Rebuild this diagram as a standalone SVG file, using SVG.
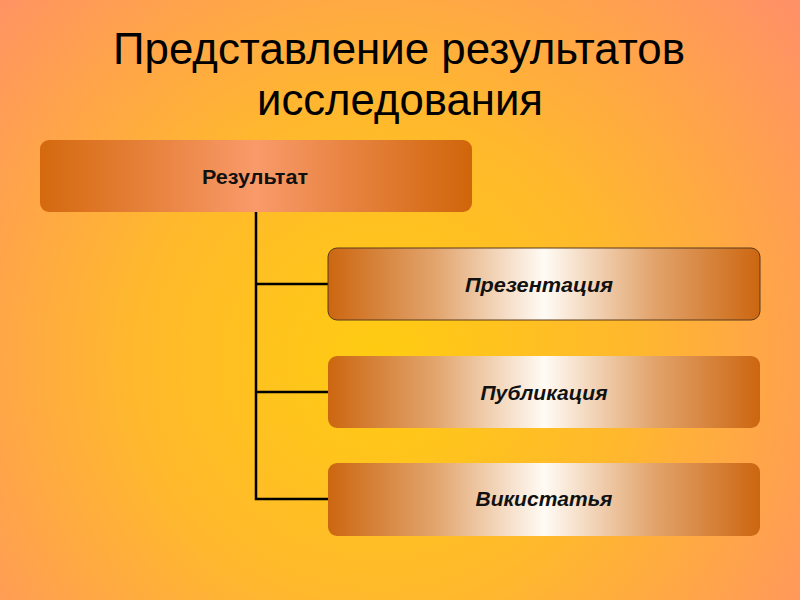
<svg xmlns="http://www.w3.org/2000/svg" width="800" height="600" viewBox="0 0 800 600">
<defs>
<radialGradient id="bg" cx="380" cy="360" r="540" gradientUnits="userSpaceOnUse">
<stop offset="0" stop-color="#FFCC11"/>
<stop offset="0.45" stop-color="#FFB92C"/>
<stop offset="1" stop-color="#FF9166"/>
</radialGradient>
<linearGradient id="rootg" x1="0" y1="0" x2="1" y2="0">
<stop offset="0" stop-color="#D4690E"/>
<stop offset="0.5" stop-color="#F99A6A"/>
<stop offset="1" stop-color="#D0650A"/>
</linearGradient>
<linearGradient id="childg" x1="0" y1="0" x2="1" y2="0">
<stop offset="0" stop-color="#CC6610"/>
<stop offset="0.25" stop-color="#E2A56E"/>
<stop offset="0.5" stop-color="#FFFBF5"/>
<stop offset="0.75" stop-color="#E2A56E"/>
<stop offset="1" stop-color="#CC6610"/>
</linearGradient>
<style>
.title{font-family:"Liberation Sans Narrow","Liberation Sans",Arial,sans-serif;font-size:44px;fill:#000;text-anchor:middle}
.root{fill:url(#rootg)}
.child{fill:url(#childg)}
.lbl{font-family:"Liberation Sans",Arial,sans-serif;font-size:21px;font-weight:bold;fill:#111;text-anchor:middle}
.it{font-style:italic}
.conn{stroke:#000;stroke-width:2.5;fill:none}
</style>
</defs>
<rect width="800" height="600" fill="url(#bg)"/>
<g id="title">
<text class="title" x="399" y="64" textLength="572" lengthAdjust="spacingAndGlyphs">Представление результатов</text>
<text class="title" x="400" y="115" textLength="286" lengthAdjust="spacingAndGlyphs">исследования</text>
</g>
<g id="connectors">
<path class="conn" d="M256 212 V499 H328 M256 284 H328 M256 392 H328"/>
</g>
<g id="node-root">
<rect class="root" x="40" y="140" width="432" height="72" rx="9"/>
<text class="lbl" x="255" y="184" textLength="106" lengthAdjust="spacingAndGlyphs">Результат</text>
</g>
<g id="node-presentation">
<rect class="child" x="328" y="248" width="432" height="72" rx="9" stroke="#5A3A1A" stroke-width="1"/>
<text class="lbl it" x="539" y="292" textLength="148" lengthAdjust="spacingAndGlyphs">Презентация</text>
</g>
<g id="node-publication">
<rect class="child" x="328" y="356" width="432" height="72" rx="9"/>
<text class="lbl it" x="544" y="400">Публикация</text>
</g>
<g id="node-wiki">
<rect class="child" x="328" y="463" width="432" height="73" rx="9"/>
<text class="lbl it" x="544" y="506">Викистатья</text>
</g>
</svg>
